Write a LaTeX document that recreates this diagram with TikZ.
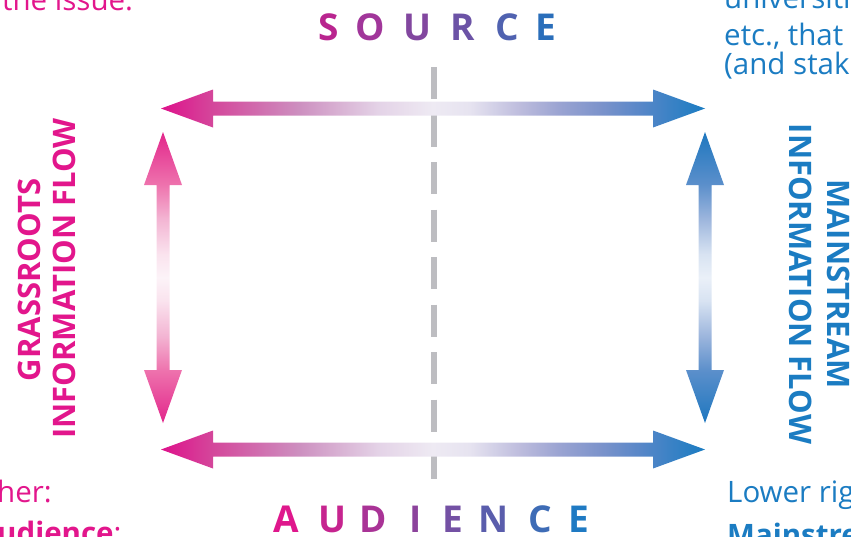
\documentclass[tikz,border=0pt]{standalone}
\usepackage{fontspec}
\setmainfont{Open Sans}
\definecolor{mag}{HTML}{E2168C}
\definecolor{blu}{HTML}{1B7CC2}
\definecolor{dashgray}{HTML}{BDBDC1}
% SOURCE letters
\definecolor{sA}{HTML}{B9258F}
\definecolor{sB}{HTML}{A1369A}
\definecolor{sC}{HTML}{82479F}
\definecolor{sD}{HTML}{6C53A6}
\definecolor{sE}{HTML}{5062B0}
\definecolor{sF}{HTML}{2A6EBA}
% AUDIENCE letters
\definecolor{aA}{HTML}{DF178C}
\definecolor{aB}{HTML}{C6248F}
\definecolor{aC}{HTML}{A93396}
\definecolor{aD}{HTML}{8C439C}
\definecolor{aE}{HTML}{7451A4}
\definecolor{aF}{HTML}{5A5DAC}
\definecolor{aG}{HTML}{3E6CB6}
\definecolor{aH}{HTML}{1F7AC3}
% horizontal arrows
\definecolor{h0}{HTML}{DE128B}
\definecolor{h1}{HTML}{D4479B}
\definecolor{h2}{HTML}{CD90C0}
\definecolor{h3}{HTML}{E4D3E7}
\definecolor{h4}{HTML}{EEEAF3}
\definecolor{h5}{HTML}{E6E3F0}
\definecolor{h6}{HTML}{BDBCDD}
\definecolor{h7}{HTML}{9BA4D2}
\definecolor{h8}{HTML}{7C93CB}
\definecolor{h9}{HTML}{5887C8}
\definecolor{h10}{HTML}{1A7CC2}
\pgfdeclarehorizontalshading{hflow}{100bp}{color(0bp)=(h0); color(25bp)=(h0); color(29.8bp)=(h1); color(37.75bp)=(h2); color(45bp)=(h3); color(50bp)=(h4); color(53.4bp)=(h5); color(58bp)=(h6); color(61.5bp)=(h7); color(65.35bp)=(h8); color(69bp)=(h9); color(75bp)=(h10); color(100bp)=(h10)}
% left vertical arrow
\definecolor{p0}{HTML}{E2268B}
\definecolor{p1}{HTML}{EE72AD}
\definecolor{p2}{HTML}{F3B5D3}
\definecolor{p3}{HTML}{FAE3EE}
\definecolor{p4}{HTML}{FCF3F8}
\pgfdeclareverticalshading{pflow}{100bp}{color(0bp)=(p0); color(25bp)=(p0); color(34bp)=(p1); color(40bp)=(p2); color(46bp)=(p3); color(50bp)=(p4); color(54bp)=(p3); color(60bp)=(p2); color(66bp)=(p1); color(75bp)=(p0); color(100bp)=(p0)}
% right vertical arrow
\definecolor{b0}{HTML}{1E77BF}
\definecolor{b1}{HTML}{5B8FCB}
\definecolor{b2}{HTML}{9DB6DD}
\definecolor{b3}{HTML}{D8E3F2}
\definecolor{b4}{HTML}{EAF0F8}
\pgfdeclareverticalshading{bflow}{100bp}{color(0bp)=(b0); color(25bp)=(b0); color(34bp)=(b1); color(40bp)=(b2); color(46bp)=(b3); color(50bp)=(b4); color(54bp)=(b3); color(60bp)=(b2); color(66bp)=(b1); color(75bp)=(b0); color(100bp)=(b0)}
\tikzset{
  bodytext/.style={inner sep=0pt, font=\fontsize{29.5}{32}\selectfont, anchor=base west},
  sidelabel/.style={inner sep=0pt, font=\fontsize{31}{34}\bfseries},
  bigletter/.style={inner sep=0pt, font=\fontsize{37}{40}\selectfont\bfseries, anchor=base},
  divider/.style={draw=dashgray, line width=5.5pt, dash pattern=on 32pt off 15.5pt}
}
\begin{document}
\begin{tikzpicture}[x=1pt,y=-1pt]
\useasboundingbox (0,0) rectangle (851,536);
% corner texts (cut by the page edge, as in the reference)
\node[bodytext, text=mag] (tl) at (2,10) {the issue.};
\node[bodytext, text=blu] (tr1) at (724,8) {universiti};
\node[bodytext, text=blu] (tr2) at (724,45.7) {etc., that};
\node[bodytext, text=blu] (tr3) at (724,74) {(and stak};
\node[bodytext, text=mag] (bl1) at (-3,502) {her:};
\node[bodytext, text=mag] (bl2) at (-3,543) {\textbf{udience}:};
\node[bodytext, text=blu] (br1) at (727,502) {Lower rig};
\node[bodytext, text=blu] (br2) at (727,545) {\textbf{Mainstre}};
% divider
\coordinate (dtop) at (434,67);
\coordinate (dbot) at (434,479);
\draw[divider] (dtop) -- (dbot);
% horizontal arrows
\shade[shading=hflow] (161,108.5) -- (213,89.5) -- (213,101.5) -- (653,101.5) -- (653,89.5) -- (705,108.5) -- (653,127.5) -- (653,115.5) -- (213,115.5) -- (213,127.5) -- cycle;
\shade[shading=hflow] (161,449.5) -- (213,430.5) -- (213,442.5) -- (653,442.5) -- (653,430.5) -- (705,449.5) -- (653,468.5) -- (653,456.5) -- (213,456.5) -- (213,468.5) -- cycle;
% vertical arrows
\shade[shading=pflow] (163,132) -- (182,185) -- (169.5,185) -- (169.5,370) -- (182,370) -- (163,423) -- (144,370) -- (156.5,370) -- (156.5,185) -- (144,185) -- cycle;
\shade[shading=bflow] (705,132) -- (724,185) -- (711.5,185) -- (711.5,370) -- (724,370) -- (705,423) -- (686,370) -- (698.5,370) -- (698.5,185) -- (686,185) -- cycle;
% side labels
\node[sidelabel, text=mag, rotate=90] (gr1) at (29,280) {GRASSROOTS};
\node[sidelabel, text=mag, rotate=90] (gr2) at (64.5,278.5) {INFORMATION FLOW};
\node[sidelabel, text=blu, rotate=-90] (ms1) at (839,284) {MAINSTREAM};
\node[sidelabel, text=blu, rotate=-90] (ms2) at (800.5,284) {INFORMATION FLOW};
% SOURCE
\node[bigletter, text=sA] (s1) at (328.5,40.7) {S};
\node[bigletter, text=sB] (s2) at (370,40.7) {O};
\node[bigletter, text=sC] (s3) at (417,40.7) {U};
\node[bigletter, text=sD] (s4) at (463,40.7) {R};
\node[bigletter, text=sE] (s5) at (507,40.7) {C};
\node[bigletter, text=sF] (s6) at (546,40.7) {E};
% AUDIENCE
\node[bigletter, text=aA] (a1) at (286,532.7) {A};
\node[bigletter, text=aB] (a2) at (332,532.7) {U};
\node[bigletter, text=aC] (a3) at (373,532.7) {D};
\node[bigletter, text=aD] (a4) at (416,532.7) {I};
\node[bigletter, text=aE] (a5) at (452.5,532.7) {E};
\node[bigletter, text=aF] (a6) at (494,532.7) {N};
\node[bigletter, text=aG] (a7) at (540,532.7) {C};
\node[bigletter, text=aH] (a8) at (579,532.7) {E};
\end{tikzpicture}
\end{document}
